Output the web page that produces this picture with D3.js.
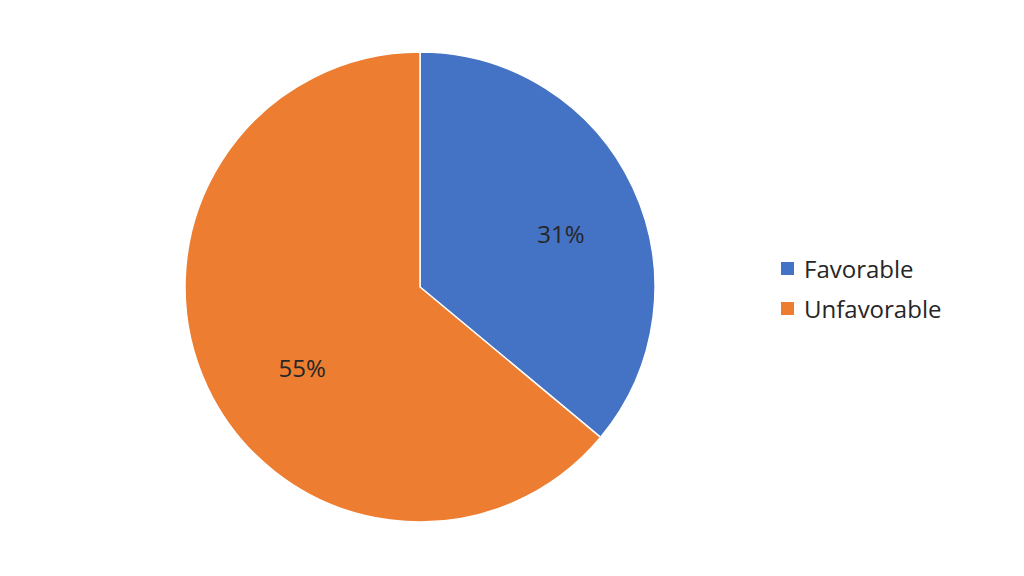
<!DOCTYPE html>
<html><head><meta charset="utf-8">
<script src="https://cdn.jsdelivr.net/npm/d3@7"></script>
<style>body{margin:0;background:#fff;} svg{display:block;font-family:"Open Sans","Noto Sans",sans-serif;}</style>
</head><body>
<svg id="c" width="1024" height="576"></svg>
<script>
const categories = ["Favorable", "Unfavorable"];
const values = [31, 55];
const labels = ["31%", "55%"];
const colors = ["#4472C4", "#ED7D31"];

// layout tweaks for label placement (Excel-style best fit)
const labelNudge = [[9, 8], [14, 19]];

const svg = d3.select("#c");
const cx = 420, cy = 287, r = 235;
const pie = d3.pie().sort(null).value(d => d.v);
const data = pie(categories.map((c, i) => ({c, v: values[i], l: labels[i], col: colors[i], i})));
const arc = d3.arc().innerRadius(0).outerRadius(r);
const g = svg.append("g").attr("transform", `translate(${cx},${cy})`);
g.selectAll("path").data(data).join("path")
  .attr("d", arc).attr("fill", d => d.data.col)
  .attr("stroke", "#fff").attr("stroke-width", 1.5);
const lab = d3.arc().innerRadius(r * 0.62).outerRadius(r * 0.62);
g.selectAll("text").data(data).join("text")
  .attr("x", d => lab.centroid(d)[0] + labelNudge[d.data.i][0])
  .attr("y", d => lab.centroid(d)[1] + labelNudge[d.data.i][1])
  .attr("text-anchor", "middle").attr("dominant-baseline", "central")
  .attr("font-size", 24).attr("fill", "#262626").text(d => d.data.l);

const lg = svg.append("g").attr("transform", "translate(781,262)");
categories.forEach((c, i) => {
  const row = lg.append("g").attr("transform", `translate(0,${i * 40})`);
  row.append("rect").attr("width", 13).attr("height", 13).attr("fill", colors[i]);
  row.append("text").attr("x", 23).attr("y", 6.5).attr("dominant-baseline", "central")
    .attr("font-size", 24).attr("fill", "#262626").text(c);
});
</script>
</body></html>
